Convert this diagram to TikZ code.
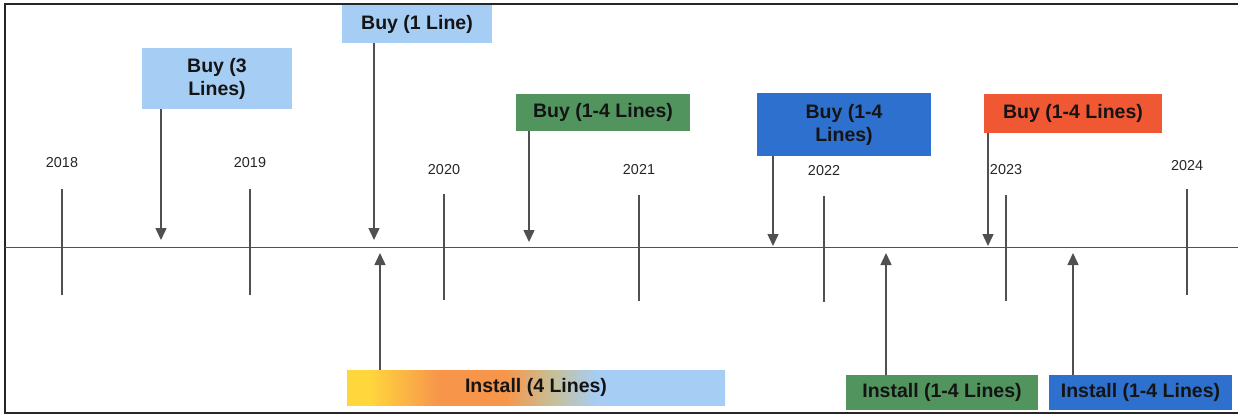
\documentclass[tikz,border=0pt]{standalone}
\usepackage{fontspec}
\setmainfont{Liberation Sans}
\usepackage{tikz}
\usetikzlibrary{arrows.meta, positioning, calc}
\usepackage{xcolor}

\definecolor{skyblue}{RGB}{166,205,244}
\definecolor{buygreen}{RGB}{82,148,94}
\definecolor{buyblue}{RGB}{46,112,205}
\definecolor{buyorange}{RGB}{240,88,52}
\definecolor{instyellow}{RGB}{255,214,60}
\definecolor{instorange}{RGB}{247,150,75}
\definecolor{instmix}{RGB}{200,190,150}
\definecolor{linegray}{RGB}{80,80,80}

\pgfdeclarehorizontalshading{installfade}{100bp}{%
  color(0bp)=(instyellow); color(28bp)=(instyellow);
  color(37bp)=(instorange); color(46bp)=(instorange);
  color(52bp)=(instmix); color(58bp)=(skyblue);
  color(100bp)=(skyblue)}

\tikzset{
  box/.style={inner sep=0pt, align=center, text=black!92,
    font=\fontsize{19.5}{23}\selectfont\bfseries},
  year/.style={font=\fontsize{14.4}{16}\selectfont, text=black!85},
  tick/.style={linegray, line width=1.5pt},
  arr/.style={linegray, line width=1.5pt, -{Triangle[width=11pt, length=12pt]}}
}

\begin{document}
\begin{tikzpicture}[x=1pt, y=-1pt]
    \useasboundingbox (0,0) rectangle (1238,417);

    % Frame
    \draw[black!85, line width=2.5pt] (1238,4) -- (5,4) -- (5,413) -- (1238,413);

    % Time line
    \draw[linegray, line width=1.5pt] (5,247.5) -- (1238,247.5);

    % Years and ticks
    \foreach \x/\yr/\top/\ly in {
        62/2018/189/163,
        250/2019/189/163,
        444/2020/194/170,
        639/2021/195/170,
        824/2022/196/171,
        1006/2023/195/170,
        1187/2024/189/166} {
        \draw[tick] (\x,\top) -- (\x,\top+106);
        \node[year] (y\yr) at (\x,\ly) {\yr};
    }

    % Buy boxes
    \node[box, fill=skyblue, minimum width=150pt, minimum height=61pt] (buy3) at (217,78.5) {Buy (3\\Lines)};
    \node[box, fill=skyblue, minimum width=150pt, minimum height=38pt] (buy1) at (417,24) {Buy (1 Line)};
    \node[box, fill=buygreen, minimum width=174pt, minimum height=37pt] (buyg) at (603,112.5) {Buy (1-4 Lines)};
    \node[box, fill=buyblue, minimum width=174pt, minimum height=63pt] (buyb) at (844,124.5) {Buy (1-4\\Lines)};
    \node[box, fill=buyorange, minimum width=178pt, minimum height=39pt] (buyo) at (1073,113.5) {Buy (1-4 Lines)};

    % Install boxes
    \node[box, shading=installfade, minimum width=378pt, minimum height=35pt] (inst4) at (536,387.5) {Install (4 Lines)};
    \node[box, fill=buygreen, minimum width=192pt, minimum height=35pt] (instg) at (942,392.5) {Install (1-4 Lines)};
    \node[box, fill=buyblue, minimum width=183pt, minimum height=35pt] (instb) at (1140.5,392.5) {Install (1-4 Lines)};

    % Arrow ends on the line
    \coordinate (d1) at (161,240);
    \coordinate (d2) at (374,240);
    \coordinate (d3) at (529,242);
    \coordinate (d4) at (773,246);
    \coordinate (d5) at (988,246);
    \coordinate (u1) at (380,253);
    \coordinate (u2) at (886,253);
    \coordinate (u3) at (1073,253);

    % Arrows
    \draw[arr] (buy3.south -| d1) -- (d1);
    \draw[arr] (buy1.south -| d2) -- (d2);
    \draw[arr] (buyg.south -| d3) -- (d3);
    \draw[arr] (buyb.south -| d4) -- (d4);
    \draw[arr] (buyo.south -| d5) -- (d5);
    \draw[arr] (inst4.north -| u1) -- (u1);
    \draw[arr] (instg.north -| u2) -- (u2);
    \draw[arr] (instb.north -| u3) -- (u3);
\end{tikzpicture}
\end{document}
